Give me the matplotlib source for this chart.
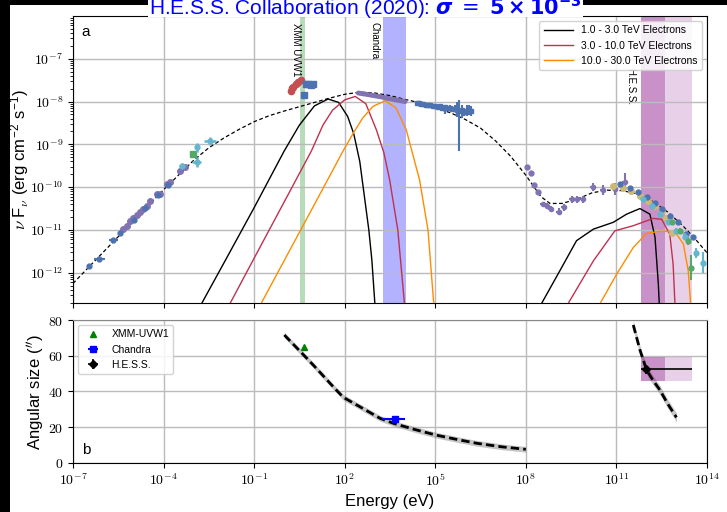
import numpy as np
import matplotlib.pyplot as plt
from matplotlib.patches import Rectangle
from matplotlib.ticker import FixedLocator, FixedFormatter, NullLocator, NullFormatter, LogLocator

plt.rcParams['font.family'] = ['Liberation Sans', 'DejaVu Sans']
plt.rcParams['mathtext.fontset'] = 'cm'

blue, green, red, purple, yellow, cyan = '#4C72B0', '#55A868', '#C44E52', '#8172B2', '#CCB974', '#64B5CD'

# ---- SED model, log10(E / eV) vs log10(nuFnu / erg cm-2 s-1)
model_logE = [-7.0, -6.0, -5.0, -4.0, -3.0, -2.5, -2.0, -1.5, -1.0, -0.5, 0.0, 0.5, 1.0, 1.5, 2.0, 2.5,
              3.0, 3.5, 4.0, 4.5, 5.0, 5.5, 6.0, 6.5, 7.0, 7.5, 8.0, 8.5, 8.8, 9.2, 9.7, 10.2, 10.7,
              11.2, 11.7, 12.2, 12.7, 13.2, 13.6, 14.0]
model_logF = [-12.25, -11.52, -10.79, -10.06, -9.37, -9.08, -8.85, -8.65, -8.47, -8.33, -8.22, -8.12, -8.02,
              -7.92, -7.83, -7.78, -7.80, -7.86, -7.95, -8.03, -8.15, -8.26, -8.42, -8.62, -8.92, -9.28,
              -9.72, -10.22, -10.38, -10.38, -10.28, -10.13, -10.07, -10.08, -10.16, -10.33, -10.58,
              -10.9, -11.2, -11.53]

# electron populations (synchrotron branch, then inverse-Compton branch)
e1_logE = [-2.74, -2.0, -1.0, 0.0, 0.5, 1.0, 1.45, 1.8, 2.1, 2.3, 2.5, 2.65, 2.8, 2.9, 3.0,
           8.52, 9.13, 9.68, 10.24, 10.9, 11.34, 11.78, 12.11, 12.28, 12.39, 12.42]
e1_logF = [-12.72, -11.77, -10.48, -9.15, -8.55, -8.1, -7.94, -8.02, -8.35, -8.75, -9.4, -10.2, -11.0, -11.7, -12.72,
           -12.72, -11.95, -11.25, -10.98, -10.82, -10.63, -10.5, -10.63, -11.17, -12.26, -12.72]
e2_logE = [-1.8, -1.0, 0.0, 0.9, 1.28, 1.6, 2.0, 2.35, 2.7, 3.05, 3.3, 3.49, 3.76, 3.98,
           9.4, 10.24, 10.95, 11.56, 12.22, 12.5, 12.77, 12.88, 12.94]
e2_logF = [-12.72, -11.66, -10.34, -9.15, -8.55, -8.2, -7.96, -7.88, -8.05, -8.66, -9.2, -9.83, -11.0, -12.72,
           -12.72, -11.72, -11.02, -10.9, -10.73, -10.75, -11.1, -11.8, -12.72]
e3_logE = [-0.77, 0.0, 1.0, 1.95, 2.3, 2.6, 2.94, 3.35, 3.7, 4.04, 4.48, 4.76, 4.95,
           10.46, 11.01, 11.56, 12.0, 12.44, 12.94, 13.22, 13.38, 13.46]
e3_logF = [-12.72, -11.71, -10.4, -9.15, -8.72, -8.38, -8.11, -7.98, -8.15, -8.66, -9.83, -11.0, -12.72,
           -12.72, -12.03, -11.41, -11.08, -11.03, -11.04, -11.33, -11.95, -12.72]
e_labels = ['1.0 - 3.0 TeV Electrons', '3.0 - 10.0 TeV Electrons', '10.0 - 30.0 TeV Electrons']
e_split = [15, 14, 13]

# ---- measurements
radio_b_logE = [-6.46, -6.13, -5.66, -5.44, -4.98, -4.62, -4.20, -3.86]
radio_b_logF = [-11.84, -11.68, -11.23, -11.06, -10.76, -10.49, -10.18, -9.95]
radio_b_xerr = [0.08, 0.18, 0.15, 0.05, 0.05, 0.04, 0.04, 0.04]
radio_p_logE = [-5.33, -5.22, -5.11, -5.0, -4.89, -4.78, -4.67, -4.56, -4.45, -4.23, -4.12, -3.9, -3.79, -3.46, -3.29]
radio_p_logF = [-10.98, -10.9, -10.79, -10.71, -10.64, -10.59, -10.51, -10.43, -10.32, -10.16, -10.15, -9.93,
                -9.89, -9.62, -9.54]
mm_logE, mm_logF = [-3.04], [-9.23]
ir_logE = [-3.4, -2.9, -2.9, -2.46]
ir_logF = [-9.5, -9.42, -9.07, -8.92]
ir_xerr = [0.1, 0.15, 0.06, 0.2]
ir_yerr = [0.06, 0.12, 0.1, 0.1]
opt_logE = [0.21, 0.24, 0.30, 0.39, 0.46, 0.55]
opt_logF = [-7.75, -7.68, -7.65, -7.59, -7.54, -7.50]
uv_logE = [0.66, 0.72, 0.80, 0.88, 0.95]
uv_logF = [-7.85, -7.60, -7.58, -7.61, -7.60]
xband_logE = [2.45, 2.8, 3.2, 3.6, 4.0]
xband_logF = [-7.80, -7.84, -7.89, -7.95, -8.0]
hx_logE = [4.38, 4.45, 4.52, 4.6, 4.68, 4.76, 4.84, 4.92, 5.0, 5.08, 5.16, 5.24, 5.32, 5.4, 5.48, 5.56,
           5.64, 5.72, 5.8, 5.88, 5.96, 6.04, 6.12, 6.2]
hx_logF = [-8.03, -8.04, -8.05, -8.05, -8.07, -8.08, -8.08, -8.1, -8.1, -8.12, -8.11, -8.14, -8.13, -8.16,
           -8.15, -8.18, -8.17, -8.2, -8.22, -8.19, -8.24, -8.21, -8.2, -8.22]
hx_err_lo = [0.03, 0.03, 0.03, 0.03, 0.03, 0.03, 0.03, 0.04, 0.04, 0.04, 0.05, 0.08, 0.15, 0.05, 0.06, 0.06,
             0.08, 0.15, 0.93, 0.2, 0.1, 0.12, 0.12, 0.12]
hx_err_hi = [0.03, 0.03, 0.03, 0.03, 0.03, 0.03, 0.03, 0.04, 0.04, 0.04, 0.05, 0.05, 0.06, 0.05, 0.06, 0.06,
             0.08, 0.2, 0.25, 0.1, 0.1, 0.12, 0.12, 0.12]
lat_dot_logE = [8.05, 8.16, 8.27, 8.41]
lat_dot_logF = [-9.54, -9.66, -9.94, -10.12]
lat_logE = [8.56, 8.71, 8.85, 9.1, 9.26, 9.52, 9.68, 9.9, 10.24, 10.57, 10.95, 11.28]
lat_logF = [-10.4, -10.43, -10.51, -10.57, -10.47, -10.28, -10.28, -10.28, -10.0, -10.07, -10.05, -9.87]
lat_yerr = [0.06, 0.06, 0.07, 0.08, 0.08, 0.08, 0.08, 0.08, 0.1, 0.12, 0.14, 0.2]
tev_y_logE = [10.88, 11.23, 11.5, 11.78, 12.06, 12.28, 12.5, 12.66, 12.83]
tev_y_logF = [-9.97, -10.02, -10.1, -10.2, -10.32, -10.43, -10.55, -10.71, -11.06]
tev_b_logE = [11.12, 11.45, 11.73, 12.0, 12.28, 12.5, 12.77, 13.05, 13.32, 13.55]
tev_b_logF = [-9.93, -10.02, -10.12, -10.24, -10.36, -10.51, -10.67, -10.82, -11.1, -11.16]
tev_c_logE = [11.89, 12.17, 12.44, 12.72, 12.99, 13.27, 13.64, 13.88]
tev_c_logF = [-10.28, -10.43, -10.63, -10.82, -11.02, -11.16, -11.53, -11.76]
tev_c_yerr = [0.03, 0.03, 0.04, 0.05, 0.06, 0.08, 0.12, 0.25]
tev_g_logE = [12.83, 13.1, 13.38, 13.47]
tev_g_logF = [-10.82, -11.02, -11.25, -11.88]
tev_g_yerr = [0.05, 0.07, 0.1, 0.3]

# ---- angular size
size_lo_logE = [0.0, 0.64, 1.0, 1.62, 1.95, 2.5, 3.17, 3.61, 4.3, 5.02, 5.7, 6.37, 7.2, 8.0]
size_lo = [71.6, 60.4, 54.0, 42.6, 36.7, 31.4, 24.9, 22.1, 18.7, 15.5, 13.1, 10.9, 8.9, 7.5]
size_hi_logE = [11.56, 11.78, 12.0, 12.22, 12.44, 12.7, 12.99]
size_hi = [77.2, 63.2, 52.0, 46.0, 40.8, 33.0, 25.4]
xmm_logE, xmm_size = 0.64, 64.7
chandra_logE, chandra_size, chandra_band = 3.66, 24.3, (3.22, 3.99)
hess_logE, hess_size, hess_size_err = 11.98, 52.3, 2.5
hess_edges = [11.83, 12.60, 13.49]
hess_size_box = (45.8, 59.1)

xmm_band = (0.52, 0.69)
chandra_xband = (3.28, 4.02)

p = lambda a: 10.0 ** np.asarray(a)

fig = plt.figure(figsize=(7.27, 5.12), dpi=100)
fig.patch.set_facecolor('black')
fig.patches.append(Rectangle((10 / 727, 0), 1, 507 / 512, transform=fig.transFigure,
                             facecolor='white', edgecolor='none', zorder=-10))

ax1 = fig.add_axes([0.1004, 0.4088, 0.872, 0.560])
ax2 = fig.add_axes([0.1004, 0.0963, 0.872, 0.2787])

xticks = [10.0 ** k for k in range(-7, 15, 3)]
xlabels = [r'$10^{%d}$' % k for k in range(-7, 15, 3)]

# ---------------- panel a
ax1.axvspan(*p(xmm_band), color='green', alpha=0.28, lw=0, zorder=0)
ax1.axvspan(*p(chandra_xband), color='blue', alpha=0.3, lw=0, zorder=0)
ax1.axvspan(*p(hess_edges[:2]), color='purple', alpha=0.43, lw=0, zorder=0)
ax1.axvspan(*p(hess_edges[1:]), color='purple', alpha=0.18, lw=0, zorder=0)

ax1.plot(p(model_logE), p(model_logF), 'k--', lw=0.9, dashes=(3, 2), zorder=4)
for lE, lF, c, lab, n in zip([e1_logE, e2_logE, e3_logE], [e1_logF, e2_logF, e3_logF],
                             ['black', '#C0314F', 'darkorange'], e_labels, e_split):
    ax1.plot(p(lE[:n]), p(lF[:n]), color=c, lw=1.0, label=lab, zorder=3)
    ax1.plot(p(lE[n:]), p(lF[n:]), color=c, lw=1.0, zorder=3)

def logerr(lE, lF, xe=None, ye_lo=None, ye_hi=None):
    E, F = p(lE), p(lF)
    xerr = None if xe is None else [E - E / p(xe), E * p(xe) - E]
    if ye_lo is None:
        yerr = None
    else:
        ye_hi = ye_lo if ye_hi is None else ye_hi
        yerr = [F - F / p(ye_lo), F * p(ye_hi) - F]
    return E, F, xerr, yerr

E, F, xe, ye = logerr(radio_b_logE, radio_b_logF, radio_b_xerr)
ax1.errorbar(E, F, xerr=xe, fmt='o', color=blue, ms=3.5, lw=1.5, zorder=5)
ax1.plot(p(radio_p_logE), p(radio_p_logF), 'o', color=purple, ms=4, zorder=5)
ax1.plot(p(mm_logE), p(mm_logF), 's', color=green, ms=4, zorder=5)
E, F, xe, ye = logerr(ir_logE, ir_logF, ir_xerr, ir_yerr)
ax1.errorbar(E, F, xerr=xe, yerr=ye, fmt='o', color=cyan, ms=3.5, lw=1.8, zorder=6)
ax1.plot(p(opt_logE), p(opt_logF), 'o', color=red, ms=4.5, zorder=5)
ax1.plot(p(uv_logE), p(uv_logF), 's', color=blue, ms=4.5, zorder=5)
ax1.plot(p(xband_logE), p(xband_logF), color=purple, lw=3.5, solid_capstyle='round', zorder=5)
E, F, xe, ye = logerr(hx_logE, hx_logF, None, hx_err_lo, hx_err_hi)
ax1.errorbar(E, F, yerr=ye, fmt='s', color=blue, ms=3, lw=1.5, zorder=5)
ax1.plot(p(lat_dot_logE), p(lat_dot_logF), 'o', color=purple, ms=3.5, zorder=5)
E, F, xe, ye = logerr(lat_logE, lat_logF, [0.1] * len(lat_logE), lat_yerr)
ax1.errorbar(E, F, xerr=xe, yerr=ye, fmt='o', color=purple, ms=3, lw=1.5, zorder=5)
ax1.plot(p(tev_y_logE), p(tev_y_logF), 'o', color=yellow, ms=4, zorder=6)
ax1.plot(p(tev_b_logE), p(tev_b_logF), 'o', color=blue, ms=3.5, zorder=6)
E, F, xe, ye = logerr(tev_c_logE, tev_c_logF, [0.06] * len(tev_c_logE), tev_c_yerr)
ax1.errorbar(E, F, xerr=xe, yerr=ye, fmt='o', color=cyan, ms=3.5, lw=1.5, zorder=6)
E, F, xe, ye = logerr(tev_g_logE, tev_g_logF, [0.05] * len(tev_g_logE), tev_g_yerr)
ax1.errorbar(E, F, xerr=xe, yerr=ye, fmt='o', color=green, ms=3.5, lw=1.5, zorder=6)

ax1.set_xscale('log')
ax1.set_yscale('log')
ax1.set_xlim(1e-7, 1e14)
ax1.set_ylim(2e-13, 1e-6)
ax1.xaxis.set_major_locator(FixedLocator(xticks))
ax1.xaxis.set_major_formatter(NullFormatter())
ax1.xaxis.set_minor_locator(NullLocator())
yt = [10.0 ** k for k in range(-12, -6)]
ax1.yaxis.set_major_locator(FixedLocator(yt))
ax1.yaxis.set_major_formatter(FixedFormatter([r'$10^{%d}$' % k for k in range(-12, -6)]))
ax1.yaxis.set_minor_locator(LogLocator(subs=np.arange(2, 10)))
ax1.yaxis.set_minor_formatter(NullFormatter())
ax1.tick_params(labelsize=10)
ax1.grid(True, which='major', color='#bbbbbb', lw=1.0, zorder=0)
ax1.set_axisbelow(True)
ax1.set_ylabel(r'$\nu$ F$_\nu$ (erg cm$^{\mathdefault{-2}}$ s$^{\mathdefault{-1}}$)', fontsize=12)
ax1.yaxis.set_label_coords(-0.067, 0.5)
ax1.legend(loc='upper right', fontsize=7.5, framealpha=0.85, edgecolor='#cccccc', handlelength=2.8)
ax1.text(0.014, 0.968, 'a', transform=ax1.transAxes, fontsize=11, va='top')

ax1.text(10 ** 0.39, 1 - 0.024, 'XMM UVW1', transform=ax1.get_xaxis_transform(), rotation=270,
         ha='center', va='top', fontsize=7)
ax1.text(10 ** 3.0, 1 - 0.022, 'Chandra', transform=ax1.get_xaxis_transform(), rotation=270,
         ha='center', va='top', fontsize=7)
ax1.text(10 ** 11.45, 0.819, 'H.E.S.S.', transform=ax1.get_xaxis_transform(), rotation=270,
         ha='center', va='top', fontsize=7)

# ---------------- panel b
lo_E, lo_s = p(size_lo_logE), np.asarray(size_lo)
hi_E, hi_s = p(size_hi_logE), np.asarray(size_hi)
ax2.fill_between(lo_E, lo_s - 1.6, lo_s + 1.6, color='gray', alpha=0.45, lw=0)
ax2.fill_between(hi_E, hi_s - 2.5, hi_s + 2.5, color='gray', alpha=0.45, lw=0)
ax2.plot(lo_E, lo_s, 'k--', lw=2, dashes=(3, 1.5))
ax2.plot(hi_E, hi_s, 'k--', lw=2, dashes=(3, 1.5))

ax2.add_patch(Rectangle((10 ** hess_edges[0], hess_size_box[0]), 10 ** hess_edges[1] - 10 ** hess_edges[0],
                        hess_size_box[1] - hess_size_box[0], facecolor='purple', alpha=0.43, lw=0))
ax2.add_patch(Rectangle((10 ** hess_edges[1], hess_size_box[0]), 10 ** hess_edges[2] - 10 ** hess_edges[1],
                        hess_size_box[1] - hess_size_box[0], facecolor='purple', alpha=0.18, lw=0))

ax2.errorbar([10 ** xmm_logE], [xmm_size], fmt='^', color='green', ms=5, label='XMM-UVW1')
cE = 10 ** chandra_logE
ax2.errorbar([cE], [chandra_size], xerr=[[cE - 10 ** chandra_band[0]], [10 ** chandra_band[1] - cE]],
             fmt='s', color='blue', ms=4.5, lw=1.5, label='Chandra')
hE = 10 ** hess_logE
ax2.errorbar([hE], [hess_size], xerr=[[hE - 10 ** hess_edges[0]], [10 ** hess_edges[2] - hE]],
             yerr=hess_size_err, fmt='D', color='black', ms=4, lw=1.2, label='H.E.S.S.')

ax2.set_xscale('log')
ax2.set_xlim(1e-7, 1e14)
ax2.set_ylim(0, 80)
ax2.xaxis.set_major_locator(FixedLocator(xticks))
ax2.xaxis.set_major_formatter(FixedFormatter(xlabels))
ax2.xaxis.set_minor_locator(NullLocator())
ax2.yaxis.set_major_locator(FixedLocator([0, 20, 40, 60, 80]))
ax2.yaxis.set_major_formatter(FixedFormatter([r'$%d$' % v for v in [0, 20, 40, 60, 80]]))
ax2.tick_params(labelsize=10)
ax2.grid(True, color='#bbbbbb', lw=1.0)
ax2.set_axisbelow(True)
ax2.spines['top'].set_color('#888888')
ax2.set_ylabel(r"Angular size ($''$)", fontsize=12)
ax2.yaxis.set_label_coords(-0.041, 0.5)
ax2.set_xlabel('Energy (eV)', fontsize=12)
ax2.legend(loc='upper left', fontsize=7.5, framealpha=0.85, edgecolor='#cccccc')
ax2.text(0.014, 0.04, 'b', transform=ax2.transAxes, fontsize=11, va='bottom')

# title box sits over the top edge of panel a
fig.patches.append(Rectangle((148 / 727, 1 - 17 / 512), 435 / 727, 17 / 512, transform=fig.transFigure,
                             facecolor='white', edgecolor='none', zorder=5))
fig.text(365 / 727, 1 - 15.5 / 512,
         r'H.E.S.S. Collaboration (2020): $\boldsymbol{\sigma}$ $=$ $\mathbf{5 \times 10^{-3}}$',
         color='blue', fontsize=15, ha='center', va='baseline', math_fontfamily='dejavusans', zorder=6)

fig.savefig('out.png', dpi=100, facecolor=fig.get_facecolor())
